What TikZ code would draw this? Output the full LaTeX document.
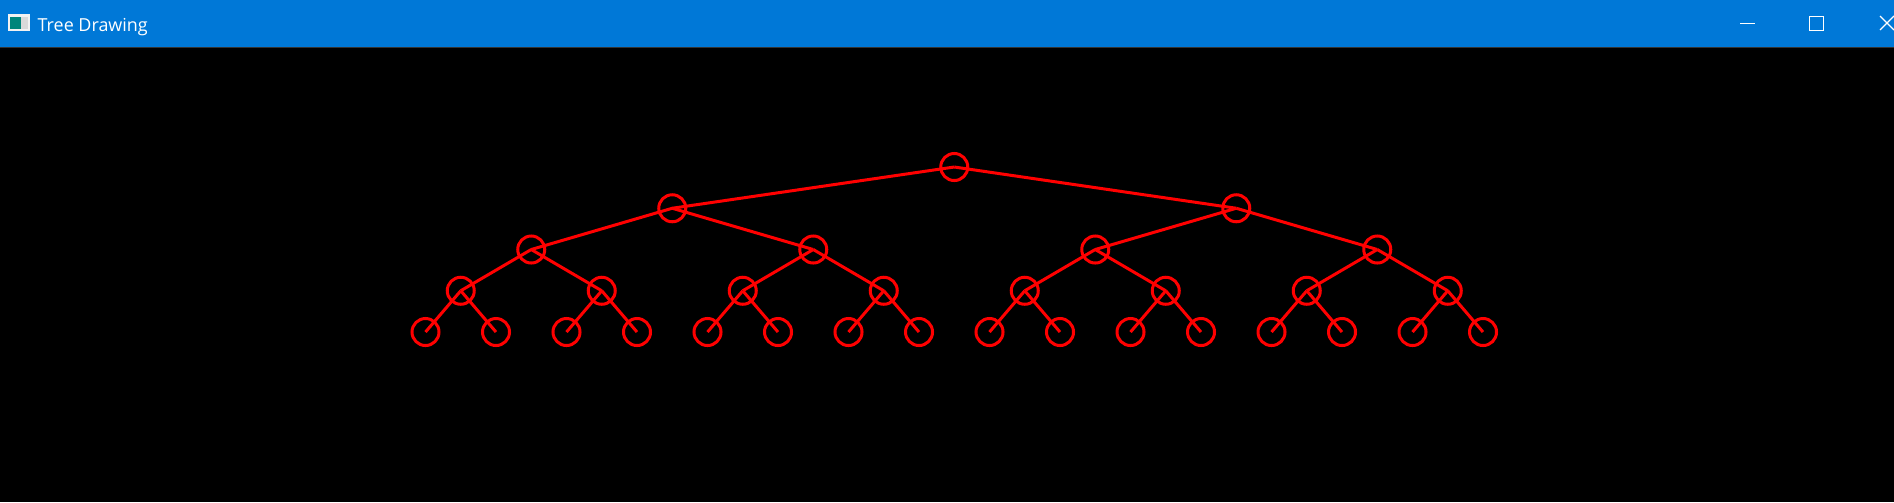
\documentclass[tikz,border=0pt]{standalone}
\usepackage{fontspec}
\setmainfont{Open Sans}

\definecolor{treered}{RGB}{255,0,0}
\definecolor{barblue}{RGB}{0,120,215}
\tikzset{
  vtx/.style={circle, draw=treered, line width=0.03cm, minimum size=0.27cm, inner sep=0pt, outer sep=0pt},
  link/.style={draw=treered, line width=0.03cm},
}

\begin{document}
\begin{tikzpicture}[x=0.01cm, y=-0.01cm]

% window
\fill[black] (0,0) rectangle (1894,502);
\useasboundingbox (0,0) rectangle (1894,502);
\fill[barblue] (0,0) rectangle (1894,47);
\draw[black!80, line width=0.01cm] (0,47) -- (1894,47);

% icon
\fill[white!90!gray] (8,14) rectangle (30,31);
\fill[teal!70!green!80!blue] (10,17) rectangle (21,29);
\fill[gray!30] (21,17) rectangle (28,29);
\node[anchor=base west, text=white, inner sep=0pt, font=\fontsize{5.1pt}{6pt}\selectfont] (title) at (37,31) {Tree Drawing};

% controls
\draw[white, line width=0.01cm] (1740,23.5) -- (1755,23.5);
\draw[white, line width=0.01cm] (1809.5,16.5) rectangle (1823.5,30);
\draw[white, line width=0.012cm] (1880,16) -- (1894,30) (1880,30) -- (1894,16);

% tree
\foreach \l in {0,...,4}{
  \pgfmathtruncatemacro{\cnt}{2^\l-1}
  \foreach \i in {0,...,\cnt}{
    \pgfmathsetmacro{\xx}{425.5+70.5*((\i+0.5)*2^(4-\l)-0.5)}
    \node[vtx] (n-\l-\i) at (\xx,{167+41.25*\l}) {};
  }
}
\foreach \l in {1,...,4}{
  \pgfmathtruncatemacro{\cnt}{2^\l-1}
  \pgfmathtruncatemacro{\up}{\l-1}
  \foreach \i in {0,...,\cnt}{
    \pgfmathtruncatemacro{\p}{floor(\i/2)}
    \draw[link] (n-\up-\p.center) -- (n-\l-\i.center);
  }
}

\end{tikzpicture}
\end{document}
